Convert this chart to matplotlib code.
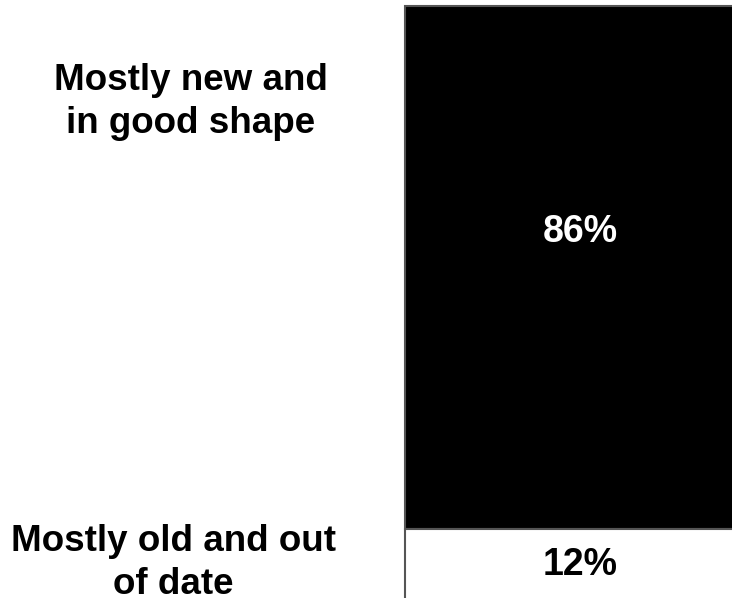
import matplotlib
matplotlib.use("Agg")
import matplotlib.pyplot as plt

# Data
categories = ["Mostly new and\nin good shape", "Mostly old and out\nof date"]
values = [86, 12]
colors = ["black", "white"]
text_colors = ["white", "black"]

plt.rcParams['font.family'] = ['Liberation Sans', 'DejaVu Sans']

fig = plt.figure(figsize=(7.32, 5.98), dpi=100)
ax = fig.add_axes([0, 0, 1, 1])

# Stacked single bar, growing downwards
bottom = 0
for val, col, tcol in zip(values, colors, text_colors):
    ax.bar(1.657, val, bottom=bottom, width=1.0, color=col,
           edgecolor="#555555", linewidth=1.5)
    y = bottom + val / 2
    if val > 50:
        y -= 5.8
    ax.text(1.657, y, f"{val}%", color=tcol, fontsize=27, fontweight="bold",
            ha="center", va="center")
    bottom += val

ax.set_xlim(0, 732 / 350)
ax.set_ylim(592 / 6.081, -6 / 6.081)
ax.axis("off")

# Category labels on the left
ax.text(0.261, 0.829, categories[0], transform=ax.transAxes, fontsize=26.5,
        fontweight="bold", ha="center", va="center", multialignment="center",
        linespacing=1.3)
ax.text(0.237, 0.0585, categories[1], transform=ax.transAxes, fontsize=26.5,
        fontweight="bold", ha="center", va="center", multialignment="center",
        linespacing=1.3)

fig.savefig("out.png", dpi=100)
